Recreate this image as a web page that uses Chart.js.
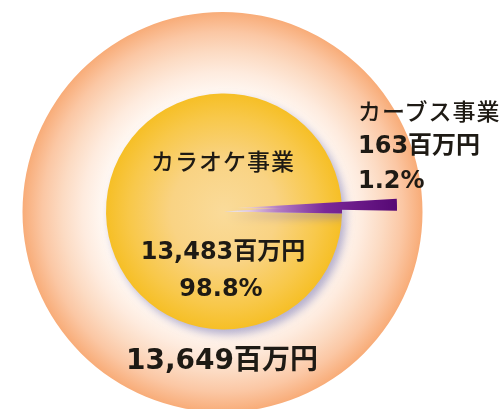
<!DOCTYPE html>
<html><head><meta charset="utf-8">
<script src="https://cdn.jsdelivr.net/npm/chart.js@4/dist/chart.umd.min.js"></script>
<style>
html,body{margin:0;padding:0;background:#fff;}
#wrap{position:relative;width:500px;height:409px;overflow:hidden;}
canvas{position:absolute;left:0;top:0;}
.lbl{position:absolute;white-space:nowrap;color:#1e1a14;font-family:"DejaVu Sans","Noto Sans CJK JP",sans-serif;line-height:1;}
.c{transform:translate(-50%,-50%);}
.l{transform:translate(0,-50%);}
.b{font-weight:bold;}
.n{font-family:"Noto Sans CJK JP",sans-serif;font-weight:500;letter-spacing:1px;}
</style>
</head><body>
<div id="wrap">
<canvas id="outer" width="500" height="409"></canvas>
<canvas id="inner" width="500" height="409"></canvas>
<canvas id="wedge" width="500" height="409"></canvas>
<div id="lblName0" class="lbl c n" style="left:223px;top:160px;font-size:23px;"></div>
<div id="lblVal0" class="lbl c b" style="left:223px;top:251px;font-size:24px;"></div>
<div id="lblPct0" class="lbl c b" style="left:221px;top:288px;font-size:24px;"></div>
<div id="lblTotal" class="lbl c b" style="left:222px;top:360px;font-size:28px;"></div>
<div id="lblName1" class="lbl l n" style="left:358px;top:110px;font-size:23px;"></div>
<div id="lblVal1" class="lbl l b" style="left:358px;top:145px;font-size:24px;"></div>
<div id="lblPct1" class="lbl l b" style="left:358px;top:180px;font-size:24px;"></div>
</div>
<script>
const categories = ['カラオケ事業', 'カーブス事業'];
const values = [13483, 163];
const percents = [98.8, 1.2];
const totalValue = [13649];
const unit = '百万円';

const fmt = v => v.toLocaleString('en-US');
document.getElementById('lblName0').textContent = categories[0];
document.getElementById('lblVal0').textContent = fmt(values[0]) + unit;
document.getElementById('lblPct0').textContent = percents[0].toFixed(1) + '%';
document.getElementById('lblName1').textContent = categories[1];
document.getElementById('lblVal1').textContent = fmt(values[1]) + unit;
document.getElementById('lblPct1').textContent = percents[1].toFixed(1) + '%';
document.getElementById('lblTotal').textContent = fmt(totalValue[0]) + unit;

const base = {
  responsive: false,
  animation: false,
  events: [],
  plugins: { legend: { display: false }, tooltip: { enabled: false } }
};

// Outer disc (total)
const c1 = document.getElementById('outer').getContext('2d');
const g1 = c1.createRadialGradient(222.5, 212, 0, 222.5, 212, 200);
g1.addColorStop(0, '#FFFFFF');
g1.addColorStop(0.58, '#FFFAF6');
g1.addColorStop(0.7, '#FEEBDE');
g1.addColorStop(0.8, '#FCDBC3');
g1.addColorStop(0.9, '#FBC7A4');
g1.addColorStop(1, '#F8AC78');
new Chart(c1, {
  type: 'pie',
  data: { labels: ['合計'], datasets: [{ data: totalValue, backgroundColor: g1, borderWidth: 0 }] },
  options: Object.assign({}, base, { radius: 200, layout: { padding: { left: 0, right: 55, top: 15, bottom: 0 } } })
});

// Inner pie
const c2 = document.getElementById('inner').getContext('2d');
const g2 = c2.createRadialGradient(224, 211.5, 0, 224, 211.5, 118);
g2.addColorStop(0, '#FADB9A');
g2.addColorStop(0.45, '#F9D383');
g2.addColorStop(0.8, '#F8C84A');
g2.addColorStop(1, '#F6BF26');
function wedgeGradient(ctx, a0) {
  const g = ctx.createLinearGradient(237, 0, 397, 0);
  g.addColorStop(0, 'rgba(248,236,240,' + a0 + ')');
  g.addColorStop(0.25, '#B47EC4');
  g.addColorStop(0.55, '#7A2898');
  g.addColorStop(1, '#560874');
  return g;
}
const shadowPlugin = {
  id: 'softShadow',
  beforeDatasetsDraw(chart) {
    const ctx = chart.ctx;
    ctx.save();
    ctx.shadowColor = 'rgba(120,115,175,0.55)';
    ctx.shadowBlur = 9;
    ctx.shadowOffsetX = 4;
    ctx.shadowOffsetY = 5;
  },
  afterDatasetsDraw(chart) { chart.ctx.restore(); }
};
new Chart(c2, {
  type: 'pie',
  data: { labels: categories, datasets: [{ data: values, backgroundColor: [g2, wedgeGradient(c2, 1)], borderWidth: 0 }] },
  options: Object.assign({}, base, { radius: 118, rotation: 91, layout: { padding: { left: 0, right: 52, top: 14, bottom: 0 } } }),
  plugins: [shadowPlugin]
});

// Extended small slice (wedge)
const c3 = document.getElementById('wedge').getContext('2d');
new Chart(c3, {
  type: 'pie',
  data: { labels: categories, datasets: [{ data: values, backgroundColor: ['rgba(0,0,0,0)', wedgeGradient(c3, 0.7)], borderWidth: 0 }] },
  options: Object.assign({}, base, { radius: 160, rotation: 91, layout: { padding: { left: 0, right: 26, top: 7, bottom: 0 } } })
});
</script>
</body></html>
